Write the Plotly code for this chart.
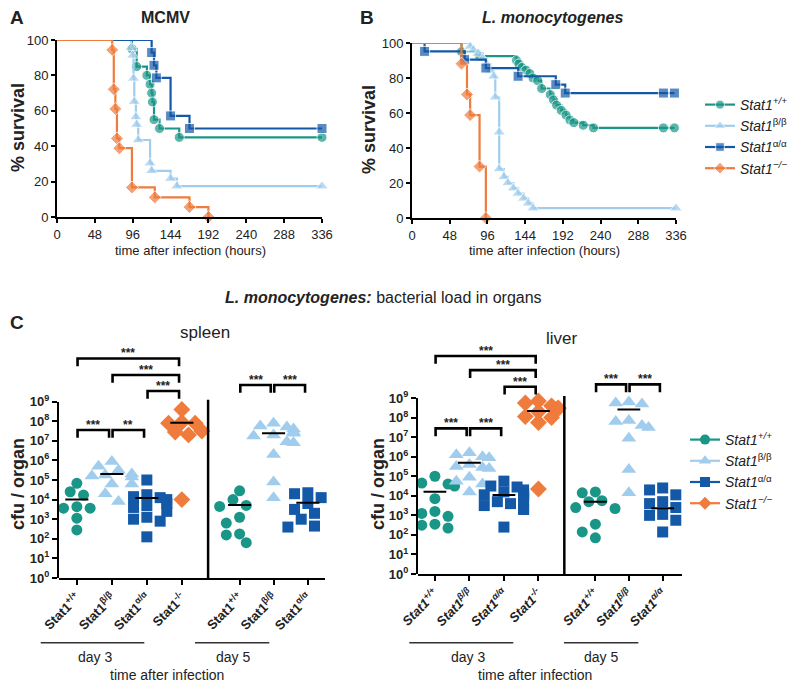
import numpy as np
import plotly.graph_objects as go

FONT = "Arial, 'Liberation Sans', sans-serif"
W, H = 800, 685
PAGE_OFF = 8  # browser body margin

COLORS = ["#1a9688", "#a0cdee", "#1459a8", "#ef7b3c"]
SYMBOLS = ["circle", "triangle-up", "square", "diamond"]
LEG_NAMES = ["<i>Stat1<sup>+/+</sup></i>", "<i>Stat1</i><sup>β/β</sup>",
             "<i>Stat1</i><sup>α/α</sup>", "<i>Stat1<sup>−/−</sup></i>"]

TIME_TICKS = [0, 48, 96, 144, 192, 240, 288, 336]
SURV_TICKS = [0, 20, 40, 60, 80, 100]

# ---------------- Panel A (MCMV) survival: time (h), % survival at each step
A_wt_t = [95, 101, 114, 118, 120, 121, 123, 130, 155, 336]
A_wt_s = [95, 85, 80, 75, 70, 65, 55, 50, 45, 45]
A_bb_t = [94, 96, 97, 98, 100, 101, 103, 118, 120, 144, 152, 336]
A_bb_s = [95.7, 91.3, 78.3, 65.2, 56.5, 52.2, 43.5, 30.4, 26.1, 21.7, 17.4, 17.4]
A_aa_t = [120, 123, 126, 144, 168, 336]
A_aa_s = [92.9, 85.7, 78.6, 57.1, 50, 50]
A_ko_t = [70, 72, 74, 76, 79, 95, 124, 168, 192]
A_ko_s = [94.4, 72.2, 61.1, 44.4, 38.9, 16.7, 11.1, 5.6, 0]

# ---------------- Panel B (L. monocytogenes) survival
B_wt_t = [63, 86, 133, 136, 140, 145, 150, 154, 160, 165, 176, 180, 184, 190, 196, 201, 206, 218, 231, 320, 334]
B_wt_s = [95, 92.5, 90, 88, 86, 84.5, 82.5, 80, 78.5, 74, 70.5, 67.5, 64.5, 61.5, 58.8, 56, 54.5, 53, 51.5, 51.5, 51.5]
B_bb_t = [74, 78, 84, 90, 95, 100, 104, 106, 111, 111, 117, 122, 129, 135, 142, 148, 154, 336]
B_bb_s = [98, 96, 94, 91, 88, 84, 81, 69, 49, 28, 23.5, 20, 17, 14, 11.2, 8.4, 5.6, 5.6]
B_aa_t = [16, 67, 94, 135, 183, 195, 320, 334]
B_aa_s = [95.2, 90.5, 85.7, 81, 76.2, 71.4, 71.4, 71.4]
B_ko_t = [63, 70, 74, 86, 94]
B_ko_s = [88.2, 70.6, 58.8, 29.4, 0]

# ---------------- Panel C: log10 cfu per organ
CAT_POS = [0, 1, 2, 3, 4.65, 5.62, 6.6]
CAT_GENO = [0, 1, 2, 3, 0, 1, 2]
SEP_POS = 3.75
SUPS = ["+/+", "β/β", "α/α", "-/-"]

spleen_d3_wt = [4.83, 4.40, 4.23, 3.64, 3.56, 3.56, 3.05, 3.05, 2.45]
spleen_d3_bb = [5.95, 5.7, 5.5, 5.3, 5.25, 5.2, 5.15, 4.8, 4.8, 4.3, 3.9]
spleen_d3_aa = [5.0, 4.25, 4.15, 4.1, 4.0, 3.8, 3.7, 3.6, 3.4, 3.1, 3.0, 2.9, 2.1]
spleen_d3_ko = [8.6, 7.95, 7.9, 7.9, 7.5, 7.45, 7.3, 4.0]
spleen_d5_wt = [4.45, 4.0, 3.7, 3.65, 3.1, 2.8, 2.25, 2.2, 1.8]
spleen_d5_bb = [7.9, 7.75, 7.7, 7.6, 7.45, 7.38, 7.3, 7.25, 6.95, 6.9, 6.3, 4.9, 4.1]
spleen_d5_aa = [4.35, 4.3, 4.1, 3.9, 3.8, 3.5, 3.3, 3.1, 3.0, 2.65, 2.6]
spleen_medians = [4.0, 5.3, 4.08, 7.92, 3.72, 7.38, 3.84]

liver_d3_wt = [5.0, 4.65, 4.6, 4.5, 3.85, 3.2, 3.1, 2.95, 2.55, 2.5, 2.35]
liver_d3_bb = [6.2, 6.1, 6.0, 5.95, 5.6, 5.5, 5.45, 5.4, 4.95, 4.75, 4.6, 4.2]
liver_d3_aa = [4.75, 4.5, 4.45, 4.3, 4.2, 4.1, 4.05, 4.0, 3.95, 3.8, 3.7, 3.6, 3.5, 3.35, 3.3, 2.4]
liver_d3_ko = [8.85, 8.75, 8.6, 8.5, 8.45, 8.3, 8.05, 8.0, 7.75, 4.35]
liver_d5_wt = [4.2, 4.15, 3.75, 3.7, 3.4, 3.35, 2.55, 2.15, 1.85]
liver_d5_bb = [8.8, 8.75, 8.7, 7.85, 7.8, 7.6, 7.5, 6.95, 5.35, 4.15]
liver_d5_aa = [4.4, 4.3, 4.05, 3.9, 3.7, 3.6, 3.4, 3.3, 3.05, 3.0, 2.75, 2.65, 2.15]
liver_medians = [4.21, 5.69, 4.04, 8.34, 3.7, 8.42, 3.36]

# significance brackets: (category i, category j, log10 level, label)
spleen_brackets = [(0, 3, 11.2, "***"), (1, 3, 10.36, "***"), (2, 3, 9.54, "***"),
                   (0, 1, 7.55, "***"), (1, 2, 7.55, "**"),
                   (4, 5, 9.85, "***"), (5, 6, 9.85, "***")]
liver_brackets = [(0, 3, 11.15, "***"), (1, 3, 10.43, "***"), (2, 3, 9.58, "***"),
                  (0, 1, 7.45, "***"), (1, 2, 7.45, "***"),
                  (4, 5, 9.7, "***"), (5, 6, 9.7, "***")]


def X(p):
    return (p - PAGE_OFF) / W


def Y(p):
    return 1 - (p - PAGE_OFF) / H


fig = go.Figure()

# ---------- survival curves
def add_surv(ts, ss, xa, ya, show):
    for i, (t, s) in enumerate(zip(ts, ss)):
        fig.add_trace(go.Scatter(
            x=[0] + t, y=[100] + s, mode="lines+markers",
            line=dict(shape="hv", color=COLORS[i], width=2.2),
            marker=dict(symbol=SYMBOLS[i], color=COLORS[i],
                        size=[0] + [11 if i == 1 else 10] * len(t)),
            xaxis=xa, yaxis=ya, name=LEG_NAMES[i], showlegend=show,
            legend="legend", cliponaxis=False, hoverinfo="skip"))


add_surv([A_wt_t, A_bb_t, A_aa_t, A_ko_t], [A_wt_s, A_bb_s, A_aa_s, A_ko_s], "x", "y", True)
add_surv([B_wt_t, B_bb_t, B_aa_t, B_ko_t], [B_wt_s, B_bb_s, B_aa_s, B_ko_s], "x2", "y2", False)


# ---------- scatter dot plots
def swarm(vals, upx, dpx, step=0.19, diam=10.5):
    placed, offs = [], []
    for v in vals:
        o = 0
        for k in (0, -1, 1, -2, 2, -3, 3):
            o = k * step
            if all(((o - po) * upx) ** 2 + ((v - pv) * dpx) ** 2 >= diam ** 2 for po, pv in placed):
                break
        placed.append((o, v))
        offs.append(o)
    return offs


def add_organ(groups, medians, brackets, xa, ya, ya_lab, upx, dpx):
    # anchor trace so the decade (label) axis gets drawn
    fig.add_trace(go.Scatter(x=[CAT_POS[0]], y=[1], mode="markers", marker=dict(opacity=0),
                             xaxis=xa, yaxis=ya_lab, showlegend=False, hoverinfo="skip"))
    for gi, vals in enumerate(groups):
        g = CAT_GENO[gi]
        offs = swarm(vals, upx, dpx)
        fig.add_trace(go.Scatter(
            x=[CAT_POS[gi] + o for o in offs], y=[10 ** v for v in vals],
            mode="markers",
            marker=dict(symbol=SYMBOLS[g], color=COLORS[g],
                        size=13 if g in (1, 3) else 11, line=dict(width=0)),
            xaxis=xa, yaxis=ya, showlegend=False, cliponaxis=False, hoverinfo="skip"))
    for gi, m in enumerate(medians):
        fig.add_trace(go.Scatter(
            x=[CAT_POS[gi] - 0.33, CAT_POS[gi] + 0.33], y=[10 ** m, 10 ** m],
            mode="lines", line=dict(color="black", width=2),
            xaxis=xa, yaxis=ya, showlegend=False, hoverinfo="skip"))
    for (i, j, lvl, lab) in brackets:
        x0 = CAT_POS[i] + 0.02
        x1 = CAT_POS[j] - 0.08
        fig.add_trace(go.Scatter(
            x=[x0, x0, x1, x1], y=[10 ** (lvl - 0.4), 10 ** lvl, 10 ** lvl, 10 ** (lvl - 0.4)],
            mode="lines", line=dict(color="black", width=2.6),
            xaxis=xa, yaxis=ya, showlegend=False, hoverinfo="skip"))
        fig.add_annotation(x=(x0 + x1) / 2, y=lvl - 0.2, xref=xa, yref=ya,
                           text="<b>" + lab + "</b>", showarrow=False, yanchor="bottom",
                           font=dict(size=12, color="#222", family=FONT))
    fig.add_shape(type="line", xref=xa, yref=ya, x0=SEP_POS, x1=SEP_POS, y0=1, y1=10 ** 9.1,
                  line=dict(color="black", width=2.5))


add_organ([spleen_d3_wt, spleen_d3_bb, spleen_d3_aa, spleen_d3_ko,
           spleen_d5_wt, spleen_d5_bb, spleen_d5_aa],
          spleen_medians, spleen_brackets, "x3", "y3", "y7", 35.0, 19.6)
add_organ([liver_d3_wt, liver_d3_bb, liver_d3_aa, liver_d3_ko,
           liver_d5_wt, liver_d5_bb, liver_d5_aa],
          liver_medians, liver_brackets, "x4", "y4", "y8", 34.5, 19.55)

# legend entries for panel C
for i in range(4):
    fig.add_trace(go.Scatter(
        x=[None], y=[None], mode="lines+markers",
        line=dict(color=COLORS[i], width=2.2),
        marker=dict(symbol=SYMBOLS[i], color=COLORS[i], size=11 if i == 1 else 10),
        name=LEG_NAMES[i], legend="legend2", xaxis="x3", yaxis="y3", hoverinfo="skip"))

# ---------- axes
line_ax = dict(showline=True, linecolor="black", linewidth=2, ticks="outside",
               ticklen=4, tickwidth=2, tickcolor="black", showgrid=False, zeroline=False,
               automargin=False, tickfont=dict(size=13, color="#222", family=FONT))

spleen_ticks = ["<b>Stat1<sup>%s</sup></b>" % SUPS[g] for g in CAT_GENO]
liver_ticks = ["<b><i>Stat1<sup>%s</sup></i></b>" % SUPS[g] for g in CAT_GENO]
decade_vals = [10 ** k for k in range(10)]
decade_text = ["<b>10<sup>%d</sup></b>" % k for k in range(10)]

cat_ax = dict(showline=True, linecolor="black", linewidth=2, ticks="outside",
              ticklen=5, tickwidth=1.5, tickcolor="black", showgrid=False, zeroline=False,
              automargin=False, tickangle=-45, tickfont=dict(size=13, color="#222", family=FONT),
              tickvals=CAT_POS)
dec_ax = dict(type="log", range=[0, 9], showline=True, linecolor="black", linewidth=2,
              ticks="outside", ticklen=5, tickwidth=1.5, tickcolor="black", automargin=False,
              showgrid=False, zeroline=False, tickvals=decade_vals, ticktext=decade_text,
              tickfont=dict(size=13, color="#222", family=FONT))

fig.update_layout(
    width=W, height=H, margin=dict(l=0, r=0, t=0, b=0, autoexpand=False),
    paper_bgcolor="white", plot_bgcolor="rgba(0,0,0,0)",
    font=dict(family=FONT, color="#222"),
    xaxis=dict(domain=[X(57), X(322)], anchor="y", range=[0, 336], tickvals=TIME_TICKS, **line_ax),
    yaxis=dict(domain=[Y(217), Y(40)], anchor="x", range=[0, 100], tickvals=SURV_TICKS, **line_ax),
    xaxis2=dict(domain=[X(412), X(676)], anchor="y2", range=[0, 336], tickvals=TIME_TICKS, **line_ax),
    yaxis2=dict(domain=[Y(218), Y(43)], anchor="x2", range=[0, 100], tickvals=SURV_TICKS, **line_ax),
    xaxis3=dict(domain=[X(59), X(325)], anchor="y3", range=[-0.51, 7.09], ticktext=spleen_ticks, **cat_ax),
    yaxis3=dict(domain=[Y(578), Y(578 - 12 * 19.6)], anchor="x3", type="log", range=[0, 12], visible=False),
    yaxis7=dict(domain=[Y(578), Y(578 - 9 * 19.6)], anchor="x3", **dec_ax),
    xaxis4=dict(domain=[X(418), X(682)], anchor="y4", range=[-0.49, 7.16], ticktext=liver_ticks, **cat_ax),
    yaxis4=dict(domain=[Y(574), Y(574 - 12 * 19.55)], anchor="x4", type="log", range=[0, 12], visible=False),
    yaxis8=dict(domain=[Y(574), Y(574 - 9 * 19.55)], anchor="x4", **dec_ax),
    legend=dict(x=X(700), y=Y(89), xanchor="left", yanchor="top", bgcolor="rgba(0,0,0,0)",
                font=dict(size=14, color="#222", family=FONT), tracegroupgap=0, itemclick=False),
    legend2=dict(x=X(685), y=Y(424), xanchor="left", yanchor="top", bgcolor="rgba(0,0,0,0)",
                 font=dict(size=14, color="#222", family=FONT), tracegroupgap=0, itemclick=False),
)

# ---------- text annotations
def ann(text, x, y, size, angle=0, xanchor="center"):
    fig.add_annotation(text=text, x=X(x), y=Y(y), xref="paper", yref="paper",
                       showarrow=False, textangle=angle, xanchor=xanchor, yanchor="middle",
                       font=dict(size=size, color="#222", family=FONT))


ann("<b>A</b>", 8, 17, 19, xanchor="left")
ann("<b>MCMV</b>", 165, 17, 16)
ann("<b>B</b>", 358, 17, 19, xanchor="left")
ann("<b><i>L. monocytogenes</i></b>", 552, 17, 16)
ann("<b>% survival</b>", 18, 128, 18, angle=-90)
ann("<b>% survival</b>", 369, 130, 18, angle=-90)
ann("time after infection (hours)", 190, 250, 13)
ann("time after infection (hours)", 544, 250, 13)
ann("<b><i>L. monocytogenes:</i></b> bacterial load in organs", 383, 298, 16)
ann("<b>C</b>", 8, 322, 19, xanchor="left")
ann("spleen", 205, 332, 17)
ann("liver", 562, 338, 17)
ann("<b>cfu / organ</b>", 18, 484, 18, angle=-90)
ann("<b>cfu / organ</b>", 378, 484, 18, angle=-90)
ann("day 3", 95, 657, 14)
ann("day 5", 233, 657, 14)
ann("time after infection", 167, 675, 14)
ann("day 3", 468, 657, 14)
ann("day 5", 601, 657, 14)
ann("time after infection", 535, 675, 14)

for (a, b) in [(40.7, 144.3), (195, 269.3), (409.3, 513.3), (564, 638.3)]:
    fig.add_shape(type="line", xref="paper", yref="paper", x0=X(a), x1=X(b),
                  y0=Y(642.7), y1=Y(642.7), line=dict(color="#333", width=1.5))

fig.write_html("out.html")
